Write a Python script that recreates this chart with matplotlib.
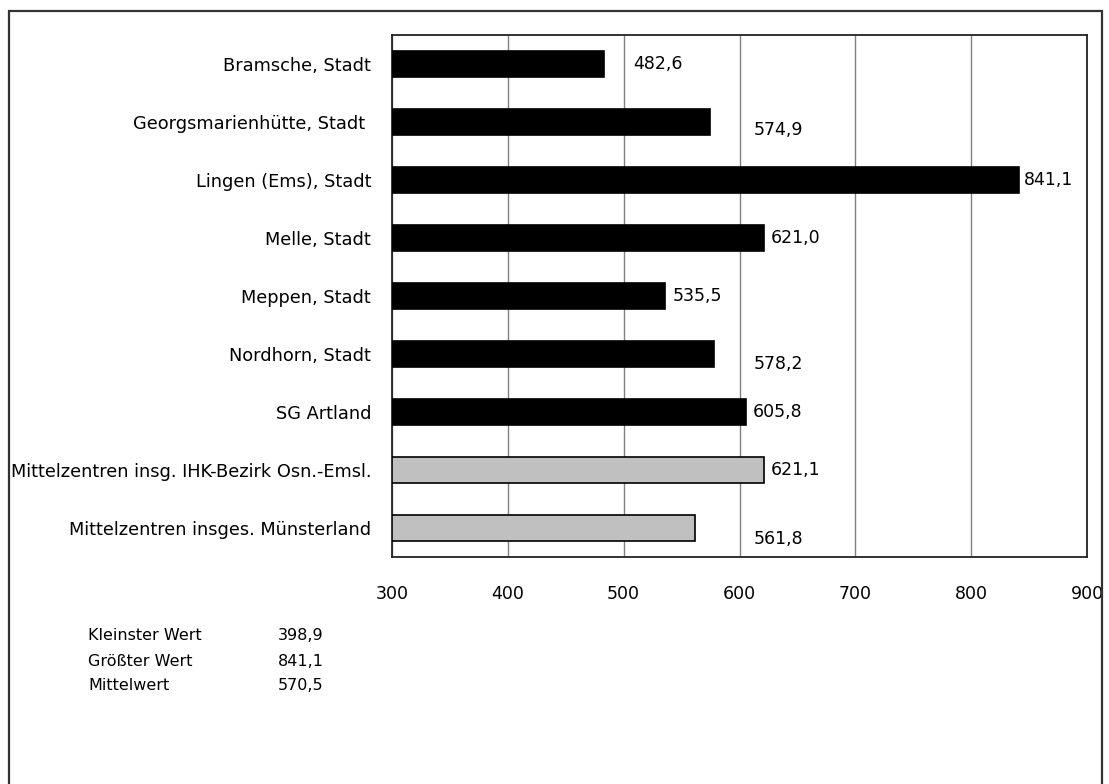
import matplotlib
matplotlib.use("Agg")
import matplotlib.pyplot as plt
from matplotlib.patches import Rectangle

categories = [
    "Bramsche, Stadt",
    "Georgsmarienhütte, Stadt ",
    "Lingen (Ems), Stadt",
    "Melle, Stadt",
    "Meppen, Stadt",
    "Nordhorn, Stadt",
    "SG Artland",
    "Mittelzentren insg. IHK-Bezirk Osn.-Emsl.",
    "Mittelzentren insges. Münsterland",
]
values = [482.6, 574.9, 841.1, 621.0, 535.5, 578.2, 605.8, 621.1, 561.8]
value_labels = ["482,6", "574,9", "841,1", "621,0", "535,5", "578,2", "605,8", "621,1", "561,8"]
is_summary = [False, False, False, False, False, False, False, True, True]
# label offsets in pixels (dx, dy) relative to bar end
label_offsets = [(30, 0), (43, -8), (5, 0), (7, 0), (8, 0), (39, -10), (7, 0), (7, 0), (58, -11)]

x_ticks = [300, 400, 500, 600, 700, 800, 900]
stats_names = ["Kleinster Wert", "Größter Wert", "Mittelwert"]
stats_values = ["398,9", "841,1", "570,5"]

W, H = 1109, 784
fig = plt.figure(figsize=(W / 100, H / 100), dpi=100)
fig.patch.set_facecolor("white")

# outer frame
fig.patches.append(Rectangle((9 / W, -0.02), (1102 - 9) / W, (H - 11) / H + 0.02,
                             transform=fig.transFigure, fill=False,
                             edgecolor="#333333", linewidth=1.6))

ax = fig.add_axes([392 / W, 1 - 557 / H, (1087 - 392) / W, (557 - 35) / H])
ypos = list(range(len(categories)))
colors = ["#c0c0c0" if s else "black" for s in is_summary]
ax.barh(ypos, [v - 300 for v in values], left=300, height=0.45,
        color=colors, edgecolor="black", linewidth=1.2, zorder=3)
ax.set_xlim(300, 900)
ax.set_ylim(len(categories) - 0.5, -0.5)
ax.set_xticks(x_ticks)
ax.set_xticklabels([str(t) for t in x_ticks], fontsize=12.5, family="DejaVu Sans")
ax.set_yticks(ypos)
ax.set_yticklabels(categories, fontsize=12.8, family="DejaVu Sans")
ax.tick_params(axis="both", length=0)
ax.tick_params(axis="x", pad=20)
ax.tick_params(axis="y", pad=15)
ax.grid(axis="x", color="#808080", linewidth=1.0, zorder=0)
for s in ax.spines.values():
    s.set_color("#222222")
    s.set_linewidth(1.3)

for i, (v, lab, off) in enumerate(zip(values, value_labels, label_offsets)):
    ax.annotate(lab, xy=(v, i), xytext=(off[0] * 0.72, off[1] * 0.72),
                textcoords="offset points", va="center", ha="left",
                fontsize=12.5, family="DejaVu Sans", zorder=4)

row_y = [636, 661, 686]
for name, val, y in zip(stats_names, stats_values, row_y):
    fig.text(88 / W, 1 - y / H, name, fontsize=11.5, family="DejaVu Sans", va="center")
    fig.text(278 / W, 1 - y / H, val, fontsize=11.5, family="DejaVu Sans", va="center")

fig.savefig("out.png", dpi=100)
